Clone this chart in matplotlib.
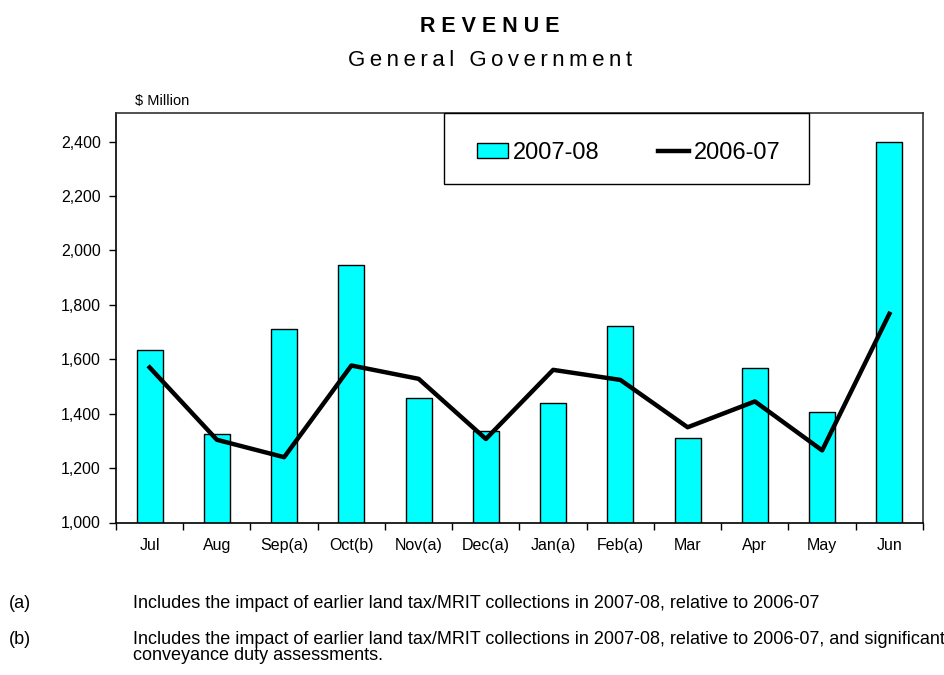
import numpy as np
import matplotlib
matplotlib.use("Agg")
import matplotlib.pyplot as plt
from matplotlib.patches import Rectangle
from matplotlib.ticker import FuncFormatter, FixedLocator

plt.rcParams['font.family'] = ['Liberation Sans', 'DejaVu Sans']

months = ['Jul', 'Aug', 'Sep(a)', 'Oct(b)', 'Nov(a)', 'Dec(a)', 'Jan(a)',
          'Feb(a)', 'Mar', 'Apr', 'May', 'Jun']
rev_0708 = [1633, 1326, 1710, 1946, 1457, 1338, 1440, 1722, 1312, 1567, 1405, 2400]
rev_0607 = [1570, 1304, 1240, 1577, 1528, 1307, 1561, 1524, 1350, 1445, 1265, 1767]
yticks = [1000, 1200, 1400, 1600, 1800, 2000, 2200, 2400]

note_tags = ['(a)', '(b)', '']
note_lines = [
    'Includes the impact of earlier land tax/MRIT collections in 2007-08, relative to 2006-07',
    'Includes the impact of earlier land tax/MRIT collections in 2007-08, relative to 2006-07, and significant',
    'conveyance duty assessments.',
]

W, H = 945, 675
fig = plt.figure(figsize=(W / 100, H / 100), dpi=100)
ax = fig.add_axes([116 / W, 1 - 522.5 / H, (923 - 116) / W, (522.5 - 113) / H])

x = np.arange(len(months))
bars = ax.bar(x, rev_0708, width=0.39, color='#00FFFF', edgecolor='black',
              linewidth=1, label='2007-08', zorder=2)
line, = ax.plot(x, rev_0607, color='black', linewidth=3.2, label='2006-07', zorder=3)

ax.set_xlim(-0.5, len(months) - 0.5)
ax.set_ylim(1000, 2505)
ax.set_yticks(yticks)
ax.yaxis.set_major_formatter(FuncFormatter(lambda v, p: f'{int(v):,}'))
ax.tick_params(axis='y', direction='out', length=5, width=1, labelsize=11.5, pad=6)

ax.set_xticks(x)
ax.set_xticklabels(months)
ax.xaxis.set_minor_locator(FixedLocator(np.arange(-0.5, len(months), 1.0)))
ax.tick_params(axis='x', which='major', length=0, labelsize=11.5, pad=11)
ax.tick_params(axis='x', which='minor', direction='out', length=5, width=1)

for s in ['top', 'right']:
    ax.spines[s].set_color('#333333')
    ax.spines[s].set_linewidth(1.2)
for s in ['left', 'bottom']:
    ax.spines[s].set_color('black')
    ax.spines[s].set_linewidth(1.2)

# legend box drawn by hand, legend itself without frame
fig.add_artist(Rectangle((444 / W, 1 - 184 / H), (809 - 444) / W, (184 - 113) / H,
                         transform=fig.transFigure, facecolor='white',
                         edgecolor='black', linewidth=1, zorder=4))
leg = fig.legend([bars, line], ['2007-08', '2006-07'], loc='center left',
                 bbox_to_anchor=(477 / W, 1 - 153 / H), ncol=2, fontsize=17,
                 handlelength=1.3, handleheight=0.6, handletextpad=0.2,
                 columnspacing=2.5, borderpad=0, borderaxespad=0, frameon=False)
leg.set_zorder(5)

fig.text(490 / W, 1 - 27 / H, '\u2009\u200a'.join('REVENUE'), ha='center',
         va='center', fontsize=15.5, fontweight='bold')
fig.text(490 / W, 1 - 60 / H, '\u2009'.join('General Government'), ha='center',
         va='center', fontsize=16)
fig.text(135 / W, 1 - 101 / H, '$ Million', ha='left', va='center', fontsize=10.5)

ys = [604, 639, 656]
for tag, txt, yy in zip(note_tags, note_lines, ys):
    fig.text(9 / W, 1 - yy / H, tag, ha='left', va='center', fontsize=13)
    fig.text(133 / W, 1 - yy / H, txt, ha='left', va='center', fontsize=13)

fig.savefig('out.png', dpi=100)
